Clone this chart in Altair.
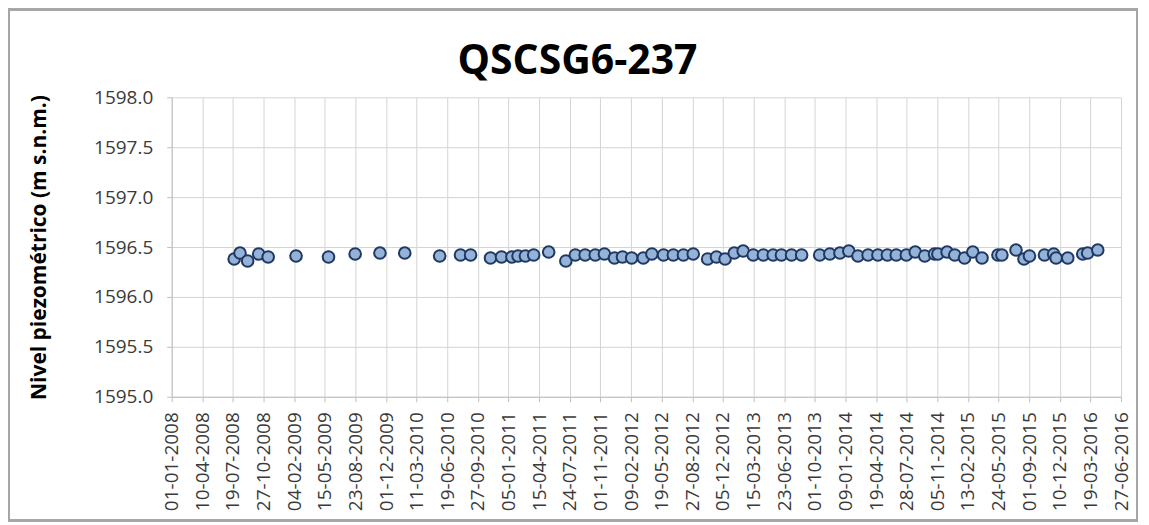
import altair as alt
import pandas as pd

# ---- data ----
fechas = [
    "2008-07-23", "2008-08-11", "2008-09-05", "2008-10-11", "2008-11-11",
    "2009-02-10", "2009-05-27", "2009-08-22", "2009-11-11",
    "2010-01-31", "2010-05-25", "2010-08-01", "2010-09-03", "2010-11-07",
    "2010-12-13", "2011-01-16", "2011-02-05", "2011-03-01", "2011-03-28",
    "2011-05-16", "2011-07-11", "2011-08-11", "2011-09-12", "2011-10-15",
    "2011-11-14", "2011-12-17", "2012-01-12", "2012-02-11", "2012-03-20",
    "2012-04-17", "2012-05-25", "2012-06-26", "2012-07-29", "2012-08-30",
    "2012-10-16", "2012-11-14", "2012-12-12", "2013-01-11", "2013-02-09",
    "2013-03-14", "2013-04-16", "2013-05-18", "2013-06-14", "2013-07-17",
    "2013-08-19",
    "2013-10-17", "2013-11-19", "2013-12-22", "2014-01-20", "2014-02-19",
    "2014-03-24", "2014-04-25", "2014-05-26", "2014-06-24", "2014-07-27",
    "2014-08-25", "2014-09-25", "2014-10-27", "2014-11-07", "2014-12-07",
    "2015-01-01", "2015-02-02", "2015-03-01", "2015-03-31", "2015-05-22",
    "2015-06-04", "2015-07-20", "2015-08-15", "2015-09-02", "2015-10-21",
    "2015-11-20", "2015-11-28", "2016-01-05", "2016-02-23", "2016-03-10",
    "2016-04-12",
]
niveles = [
    1596.38, 1596.44, 1596.36, 1596.43, 1596.40,
    1596.41, 1596.40, 1596.43, 1596.44,
    1596.44, 1596.41, 1596.42, 1596.42, 1596.39,
    1596.40, 1596.40, 1596.41, 1596.41, 1596.42,
    1596.45, 1596.36, 1596.42, 1596.42, 1596.42,
    1596.43, 1596.39, 1596.40, 1596.39, 1596.39,
    1596.43, 1596.42, 1596.42, 1596.42, 1596.43,
    1596.38, 1596.40, 1596.38, 1596.44, 1596.46,
    1596.42, 1596.42, 1596.42, 1596.42, 1596.42,
    1596.42,
    1596.42, 1596.43, 1596.44, 1596.46, 1596.41,
    1596.42, 1596.42, 1596.42, 1596.42, 1596.42,
    1596.45, 1596.41, 1596.43, 1596.43, 1596.45,
    1596.42, 1596.39, 1596.45, 1596.39, 1596.42,
    1596.42, 1596.47, 1596.38, 1596.41, 1596.42,
    1596.43, 1596.39, 1596.39, 1596.43, 1596.44,
    1596.47,
]
x_ticks = [
    "2008-01-01", "2008-04-10", "2008-07-19", "2008-10-27", "2009-02-04",
    "2009-05-15", "2009-08-23", "2009-12-01", "2010-03-11", "2010-06-19",
    "2010-09-27", "2011-01-05", "2011-04-15", "2011-07-24", "2011-11-01",
    "2012-02-09", "2012-05-19", "2012-08-27", "2012-12-05", "2013-03-15",
    "2013-06-23", "2013-10-01", "2014-01-09", "2014-04-19", "2014-07-28",
    "2014-11-05", "2015-02-13", "2015-05-24", "2015-09-01", "2015-12-10",
    "2016-03-19", "2016-06-27",
]
y_ticks = [1595.0, 1595.5, 1596.0, 1596.5, 1597.0, 1597.5, 1598.0]
titulo = "QSCSG6-237"
titulo_y = "Nivel piezométrico (m s.n.m.)"


def ms(s):
    return int(pd.Timestamp(s, tz="UTC").value // 10**6)


df = pd.DataFrame({"fecha": fechas, "nivel": niveles})

FONT = "Open Sans"
GRID = "#d4d4d4"
TXT = "#3a3a3a"

points = alt.Chart(df).mark_circle(
    size=135, color="#95B3D7", stroke="#1F3864", strokeWidth=2, opacity=1
).encode(
    x=alt.X(
        "fecha:T",
        scale=alt.Scale(type="utc", domain=[ms(x_ticks[0]), ms(x_ticks[-1])], nice=False),
        axis=alt.Axis(
            values=[ms(t) for t in x_ticks],
            labelExpr="utcFormat(datum.value, '%d-%m-%Y')",
            labelAngle=270,
            labelFont=FONT,
            labelFontSize=19,
            labelColor=TXT,
            labelPadding=10,
            labelOverlap=False,
            labelFlush=False,
            gridColor=GRID,
            domainColor="#bfbfbf",
            tickColor="#bfbfbf",
            tickSize=5,
            title=None,
        ),
    ),
    y=alt.Y(
        "nivel:Q",
        scale=alt.Scale(domain=[1595, 1598], nice=False, zero=False),
        axis=alt.Axis(
            values=y_ticks,
            format=".1f",
            labelFont=FONT,
            labelFontSize=19,
            labelColor=TXT,
            labelPadding=14,
            gridColor=GRID,
            domainColor="#bfbfbf",
            tickColor="#bfbfbf",
            tickSize=5,
            title=titulo_y,
            titleFont=FONT,
            titleFontSize=21,
            titleFontWeight="bold",
            titleColor="black",
            titlePadding=44,
        ),
    ),
)

frame = alt.Chart(df).mark_rect(
    fill=None, stroke="#a6a6a6", strokeWidth=1.5, clip=False
).encode(
    x=alt.value(-163), x2=alt.value(967), y=alt.value(-88), y2=alt.value(424)
)

chart = alt.layer(frame, points).properties(
    width=951,
    height=300,
    padding={"left": 164, "top": 89, "right": 20, "bottom": 125},
    autosize=alt.AutoSizeParams(type="none"),
    title=alt.TitleParams(
        titulo,
        font=FONT,
        fontSize=41,
        fontWeight="bold",
        color="black",
        anchor="middle",
        frame="group",
        dx=-69,
        offset=-106,
        baseline="alphabetic",
    ),
).configure_view(strokeWidth=0)

chart.save("out.html", embed_options={"renderer": "svg", "actions": False})
